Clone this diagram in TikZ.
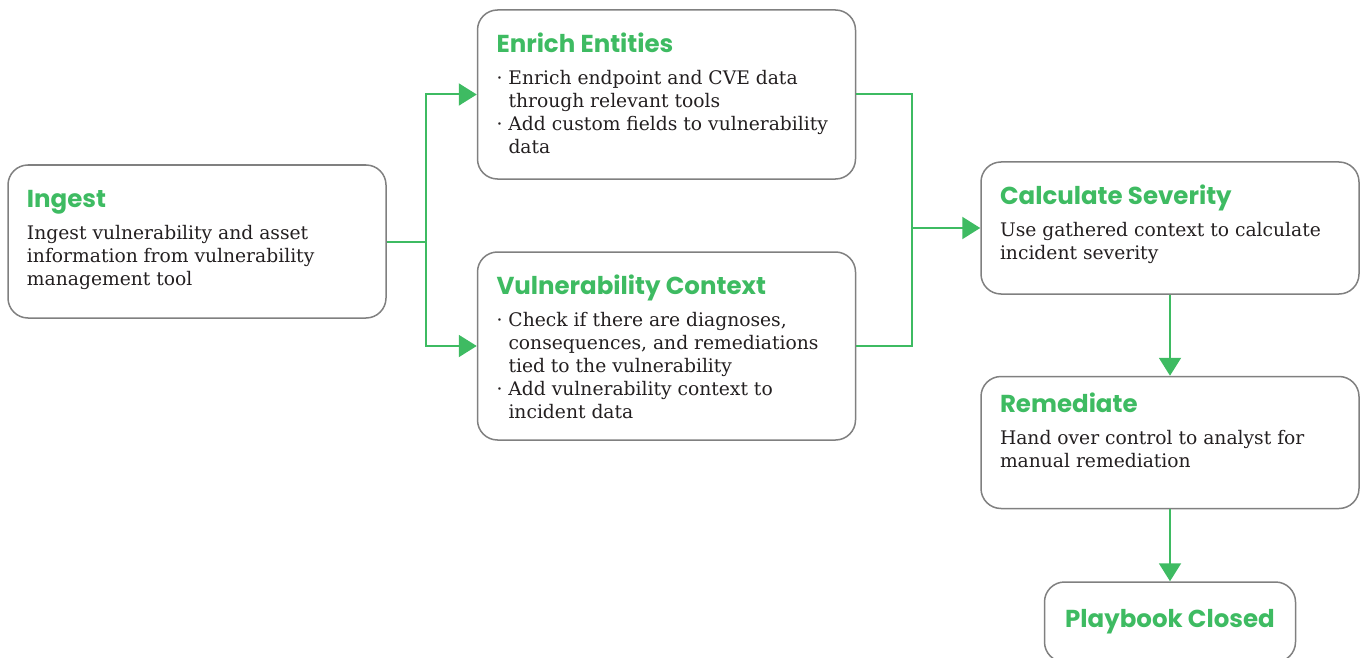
\documentclass[tikz,border=0pt]{standalone}
\usepackage{fontspec}
\setmainfont{DejaVu Serif}
\newfontfamily\headfont{Poppins}
\usetikzlibrary{positioning,arrows.meta}
\definecolor{stepgreen}{RGB}{62,187,98}
\definecolor{stepgray}{RGB}{128,128,128}
\definecolor{steptext}{RGB}{35,31,32}
\tikzstyle{stepbox}=[draw=stepgray,line width=1.5pt,rounded corners=20pt,inner xsep=19pt,inner ysep=0pt,align=left,text=steptext]
\tikzstyle{flow}=[draw=stepgreen,line width=2pt,-{Triangle[length=18pt,width=22pt]}]
\tikzstyle{link}=[draw=stepgreen,line width=2pt]
\newcommand{\newStep}[6]{\node[stepbox](#1) at #6 {\begin{minipage}[c][#4][t]{340pt}\raggedright\vspace*{#5}%
  {\headfont\bfseries\color{stepgreen}\fontsize{24.5}{28}\selectfont #2\par}\vspace{9pt}%
  {\fontsize{18.7}{23}\selectfont #3\par}\end{minipage}};}
\newcommand{\bul}[1]{{\hangindent=12pt\hangafter=1\noindent\makebox[12pt][l]{·}#1\par}}

\begin{document}
\begin{tikzpicture}[x=1pt,y=-1pt,node distance=82pt]
  \useasboundingbox (0,0) rectangle (1360,658);
  \newStep{ingest}{Ingest}{Ingest vulnerability and asset\newline information from vulnerability\newline management tool}{153pt}{25pt}{(197,241.5)}
  \newStep{enrich}{Enrich Entities}{\bul{Enrich endpoint and CVE data\newline through relevant tools}\bul{Add custom fields to vulnerability\newline data}}{169pt}{23pt}{(666.5,94.5)}
  \newStep{vuln}{Vulnerability Context}{\bul{Check if there are diagnoses,\newline consequences, and remediations\newline tied to the vulnerability}\bul{Add vulnerability context to\newline incident data}}{188pt}{23pt}{(666.5,346)}
  \newStep{calc}{Calculate Severity}{Use gathered context to calculate\newline incident severity}{132pt}{23pt}{(1170,228)}
  \node[stepbox,below=81pt of calc,anchor=north](rem){\begin{minipage}[c][132pt][t]{340pt}\raggedright\vspace*{16pt}%
    {\headfont\bfseries\color{stepgreen}\fontsize{24.5}{28}\selectfont Remediate\par}\vspace{9pt}%
    {\fontsize{18.7}{23}\selectfont Hand over control to analyst for\newline manual remediation\par}\end{minipage}};
  \node[stepbox,below=72pt of rem,minimum width=251pt,minimum height=80pt,align=center,
    text=stepgreen,font=\headfont\bfseries\fontsize{24.5}{28}\selectfont](closed){Playbook Closed};
  % branches out of ingest
  \draw[link] (ingest.east) -- ++(39,0) coordinate (split);
  \draw[flow] (split) |- (enrich.west);
  \draw[flow] (split) |- (vuln.west);
  % join into calc
  \coordinate (merge) at (912,228);
  \draw[link] (enrich.east) -| (merge) |- (vuln.east);
  \draw[flow] (merge) -- (calc.west);
  \draw[flow] (calc) -- (rem);
  \draw[flow] (rem) -- (closed);
\end{tikzpicture}
\end{document}
